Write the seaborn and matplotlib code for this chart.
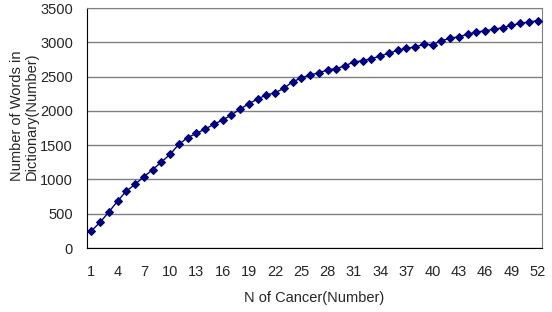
import numpy as np
import pandas as pd
import matplotlib
matplotlib.use("Agg")
import matplotlib.pyplot as plt
import seaborn as sns
from matplotlib.ticker import FixedLocator

# number of cancers (categories) and dictionary size
n_cancer = list(range(1, 53))
n_words = [250, 375, 525, 685, 831, 929, 1040, 1142, 1254, 1366,
           1512, 1609, 1672, 1735, 1804, 1867, 1940, 2027, 2104, 2173,
           2231, 2265, 2329, 2425, 2478, 2527, 2552, 2600, 2615, 2659,
           2712, 2732, 2761, 2800, 2839, 2883, 2912, 2931, 2971, 2965,
           3023, 3058, 3082, 3117, 3150, 3169, 3189, 3213, 3247, 3276,
           3296, 3315]
x_labels = list(range(1, 53, 3))
y_ticks = [0, 500, 1000, 1500, 2000, 2500, 3000, 3500]

df = pd.DataFrame({"n": n_cancer, "words": n_words})

sns.set_style("white")
plt.rcParams["font.family"] = ["Liberation Sans", "DejaVu Sans"]
fs = 10.5

fig = plt.figure(figsize=(5.52, 3.12), dpi=100)
ax = fig.add_axes([87 / 552, 1 - 248 / 312, 455 / 552, 240 / 312])

sns.lineplot(data=df, x="n", y="words", ax=ax, color="#000080",
             marker="D", markersize=3.6, markeredgecolor="#000080",
             linewidth=1.0, zorder=3)

ax.set_xlim(0.5, 52.5)
ax.set_ylim(0, 3500)
ax.set_yticks(y_ticks)
ax.set_xticks(x_labels)
ax.xaxis.set_minor_locator(FixedLocator(np.arange(0.5, 53, 1)))
ax.tick_params(axis="x", which="major", length=0, labelsize=fs, pad=12)
ax.tick_params(axis="x", which="minor", direction="in", length=4,
               width=0.8, color="black")
ax.tick_params(axis="y", length=0, labelsize=fs, pad=10)

ax.grid(axis="y", color="#808080", linewidth=1)
ax.set_axisbelow(True)
for side in ["top", "right"]:
    ax.spines[side].set_color("#808080")
for side in ["left", "bottom"]:
    ax.spines[side].set_color("black")

ax.set_xlabel("N of Cancer(Number)", fontsize=fs, labelpad=9)
ax.set_ylabel("Number of Words in\nDictionary(Number)", fontsize=fs,
              linespacing=1.1)
ax.yaxis.set_label_coords(-0.105, 0.55)

fig.savefig("out.png", dpi=100)
